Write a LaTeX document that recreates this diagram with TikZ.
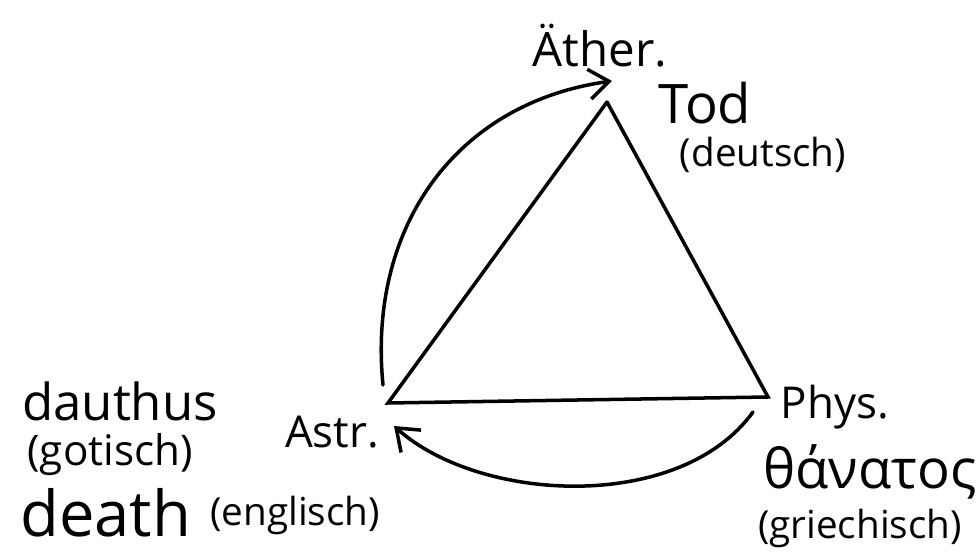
\documentclass[tikz,border=0pt]{standalone}
\usepackage{fontspec}
\setmainfont{Open Sans}
\usetikzlibrary{arrows.meta}

\begin{document}
\begin{tikzpicture}[inner sep=0pt,
 word/.style={font=\fontsize{25}{27}\selectfont},
 big/.style={font=\fontsize{31}{33}\selectfont},
 lang/.style={font=\fontsize{22}{24}\selectfont},
 stroke/.style={line width=2pt,line cap=round},
 tip/.style={-{Straight Barb[length=4mm,width=6mm,line width=2pt]}}]
\useasboundingbox (0,0) rectangle (19.54,11.06);
% the three corners
\coordinate (ae) at (12.14,9.02);
\coordinate (as) at (7.76,3.0);
\coordinate (ph) at (15.36,3.12);
% names at the corners
\node[word,font=\fontsize{27}{29}\selectfont] (aether) at (12.0,10.14) {Äther.};
\node[word] (astr) at (6.64,2.42) {Astr.};
\node[word] (phys) at (16.7,2.92) {Phys.};
% words for death
\node[big] (tod) at (14.1,9.0) {Tod};
\node[lang] (deutsch) at (15.26,7.96) {(deutsch)};
\node[big,font=\fontsize{29}{31}\selectfont] (dauthus) at (2.4,3.04) {dauthus};
\node[lang,font=\fontsize{24}{26}\selectfont] (gotisch) at (2.2,1.96) {(gotisch)};
\node[big,font=\fontsize{36}{38}\selectfont,anchor=west] (death) at (0.4,0.8) {death};
\node[lang,anchor=west] (englisch) at (4.2,0.76) {(englisch)};
\node[big] (thanatos) at (17.4,1.62) {θάνατος};
\node[lang] (griechisch) at (17.2,0.5) {(griechisch)};
% triangle
\draw[stroke] (ae) -- (as) -- (ph) -- (ae);
% arrows
\draw[stroke,tip] ([shift={(-0.1,0.36)}]as) .. controls (7.35,6.5) and (9.1,9.0) .. ([shift={(0.1,0.42)}]ae);
\draw[stroke,tip] ([shift={(-0.3,-0.3)}]ph) .. controls (13.6,0.8) and (9.6,1.0) .. ([shift={(0.12,-0.46)}]as);
\end{tikzpicture}
\end{document}
